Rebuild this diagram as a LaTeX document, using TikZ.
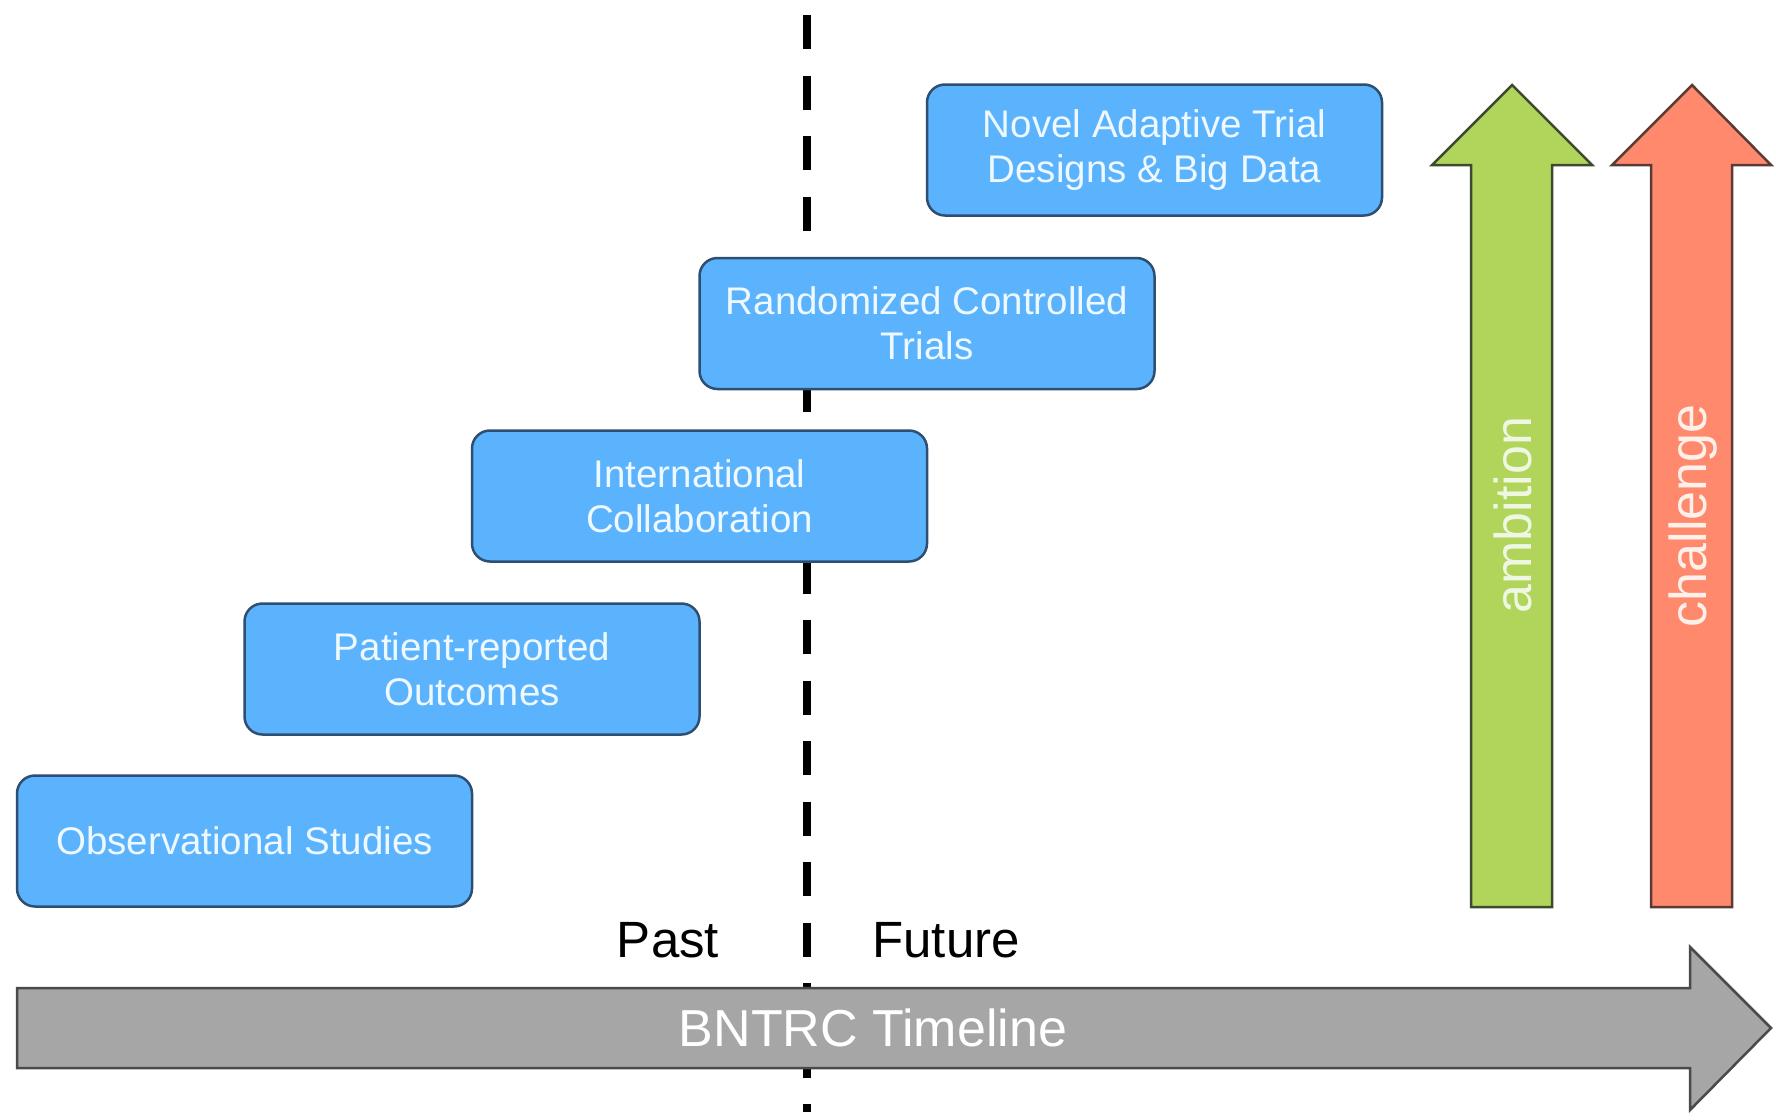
\documentclass[tikz,border=0pt]{standalone}
\usepackage{fontspec}
\setmainfont{Liberation Sans}
\definecolor{boxfill}{HTML}{5CB3FD}
\definecolor{boxline}{HTML}{2E4E72}
\definecolor{boxtext}{HTML}{EEF8FF}
\definecolor{greenfill}{HTML}{B1D45B}
\definecolor{greenline}{HTML}{3E4A30}
\definecolor{redfill}{HTML}{FF896D}
\definecolor{redline}{HTML}{5A3A35}
\definecolor{grayfill}{HTML}{A6A6A6}
\definecolor{grayline}{HTML}{4A4A4A}
\definecolor{ambtext}{HTML}{EEF7E2}
\definecolor{chaltext}{HTML}{FFF0EA}
\begin{document}
\begin{tikzpicture}[x=1pt,y=-1pt,
  stagebox/.style={draw=boxline,line width=2.5pt,fill=boxfill,rounded corners=18pt,
    minimum width=455pt,minimum height=131pt,inner sep=0pt,align=center,
    text=boxtext,font=\fontsize{38.5}{45}\selectfont},
  dashline/.style={line width=8pt,dash pattern=on 34pt off 26.5pt},
  bigarrow/.style={line width=2.5pt,line join=miter},
  arrowlabel/.style={font=\fontsize{52}{60}\selectfont,inner sep=0pt},
  timelabel/.style={font=\fontsize{51}{60}\selectfont,inner sep=0pt,text=black}]
\useasboundingbox[fill=white] (0,0) rectangle (1776,1119);
% dashed divider
\coordinate (dtop) at (807,15);
\coordinate (dbot) at (807,1112);
\draw[dashline] (dtop) -- (dbot);
% stage boxes
\node[stagebox] (obs) at (244.5,841) {Observational Studies};
\node[stagebox] (pat) at (472,669) {Patient-reported\\Outcomes};
\node[stagebox] (int) at (699.5,496) {International\\Collaboration};
\node[stagebox] (rct) at (927,323.5) {Randomized Controlled\\Trials};
\node[stagebox] (nov) at (1154.5,150) {Novel Adaptive Trial\\Designs \& Big Data};
% timeline arrow
\draw[bigarrow,fill=grayfill,draw=grayline]
  (17,988) -- (1690,988) -- (1690,947) -- (1771,1028) -- (1690,1110) -- (1690,1068) -- (17,1068) -- cycle;
\node[arrowlabel,text=white] (tl) at (873,1028) {BNTRC Timeline};
\node[timelabel] (past) at (668,940) {Past};
\node[timelabel] (future) at (946,940) {Future};
% ambition arrow
\draw[bigarrow,fill=greenfill,draw=greenline]
  (1471,907) -- (1471,165) -- (1432,165) -- (1512,85) -- (1592,165) -- (1552,165) -- (1552,907) -- cycle;
\node[arrowlabel,text=ambtext,rotate=90] (amb) at (1513,515) {ambition};
% challenge arrow
\draw[bigarrow,fill=redfill,draw=redline]
  (1651,907) -- (1651,165) -- (1612,165) -- (1692,85) -- (1771,165) -- (1732,165) -- (1732,907) -- cycle;
\node[arrowlabel,text=chaltext,rotate=90] (chal) at (1693,516) {challenge};
\end{tikzpicture}
\end{document}
